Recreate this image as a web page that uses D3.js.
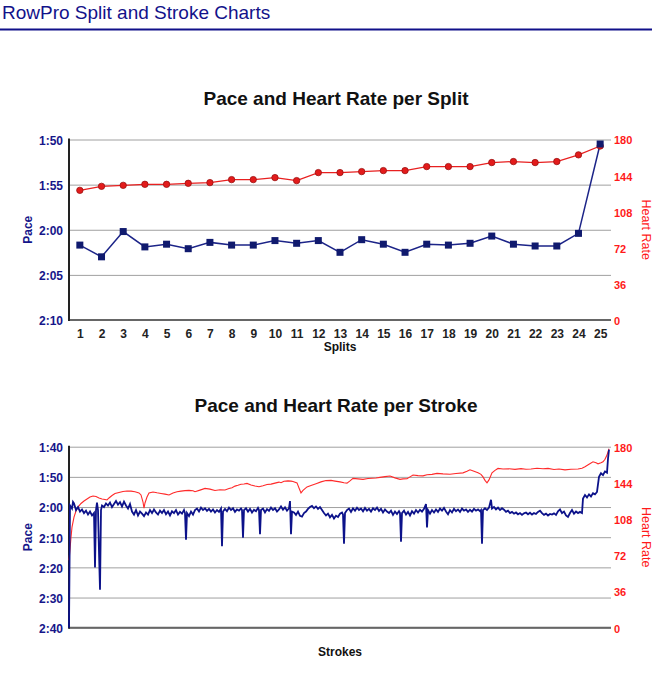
<!DOCTYPE html>
<html><head><meta charset="utf-8">
<script src="https://cdn.jsdelivr.net/npm/d3@7"></script>
<style>
body{margin:0;background:#fff}
svg{display:block}
text{font-family:"Liberation Sans",Arial,Helvetica,sans-serif}
</style>
</head><body>
<svg id="c" width="671" height="679"></svg>
<script>
// ---------- DATA ----------
const pageTitle = "RowPro Split and Stroke Charts";
const splitTitle = "Pace and Heart Rate per Split";
const strokeTitle = "Pace and Heart Rate per Stroke";

const splits = [1,2,3,4,5,6,7,8,9,10,11,12,13,14,15,16,17,18,19,20,21,22,23,24,25];
// pace in seconds per 500m
const splitPace = [121.7,123.0,120.2,121.9,121.6,122.1,121.4,121.7,121.7,121.2,121.5,121.2,122.5,121.1,121.6,122.5,121.6,121.7,121.5,120.7,121.6,121.8,121.8,120.4,110.5];
const splitHR = [129.3,133.3,134.3,135.3,135.3,136.3,137,140,140,142,139,147,147,148,149,149,153,153,153,157,158,157,158,164.7,173.5];

const splitPaceTicks = ["1:50","1:55","2:00","2:05","2:10"];
const strokePaceTicks = ["1:40","1:50","2:00","2:10","2:20","2:30","2:40"];
const hrTicks = [0,36,72,108,144,180];

const strokeCount = 542;
// [stroke, pace seconds]
const strokePace = [[0,160],[1,119.5],[3,120.5],[4,118.3],[5,118.8],[7,121],[9,120],[11,121.5],[13,120.8],[15,122],[17,121.2],[19,122.5],[21,121.5],[23,122.8],[25,122],[26,140],[27,121],[28,118.5],[29,121],[30,135],[31,147.4],[32,121],[33,119.5],[35,120],[37,118.8],[39,119.5],[41,118.5],[43,120],[45,119],[47,118],[49,119.2],[51,118.4],[53,119.8],[55,118.2],[57,119.5],[59,120.5],[61,119],[63,121.5],[65,122.5],[67,121],[69,122.8],[71,121.5],[73,122.2],[75,123],[77,121.8],[79,122.5],[81,121],[83,122],[85,120.8],[87,121.8],[89,122.5],[91,121.2],[93,122],[95,121],[97,122.4],[99,121.5],[101,122.8],[103,121.4],[105,122],[107,121],[109,122.5],[111,121.6],[113,122.2],[115,121],[116,122],[117,130.8],[118,122],[120,123],[122,121.5],[124,122.5],[126,121],[128,120.5],[130,121.5],[132,120.2],[134,121],[136,120.4],[138,121.3],[140,120.6],[142,121.5],[144,120.8],[146,121.8],[148,121],[150,121.6],[152,120.5],[153,133],[154,121.5],[156,120.6],[158,121.4],[160,120.2],[162,121],[164,120.4],[166,121.6],[168,120.8],[170,121.2],[172,120.5],[173,121],[174,130.2],[175,121],[177,120.4],[179,121.5],[181,120.6],[183,121.8],[185,120.9],[187,121.4],[189,120.3],[190,121],[191,129],[192,121],[194,120.5],[196,121.8],[198,120.7],[200,121.3],[202,120.2],[204,121],[206,120.4],[208,121.5],[210,120.8],[212,119.8],[214,120.9],[216,120.1],[218,121.2],[220,120.4],[221,118],[222,129],[223,121.5],[225,121.8],[227,122.6],[229,121.5],[231,122.9],[233,123.2],[235,122],[237,121.5],[239,120.6],[241,120],[243,119.6],[245,120.4],[247,119.8],[249,120.6],[251,120],[253,121],[255,122],[257,122.8],[259,122.2],[261,123.4],[263,122.6],[265,123.8],[267,122.9],[269,123.3],[271,122.2],[273,121.8],[274,122.5],[275,132.2],[276,122],[278,121],[280,120.5],[282,121.6],[284,120.4],[286,121.2],[288,120.2],[290,121],[292,120.5],[294,121.4],[296,120.3],[298,121.2],[300,120.6],[302,121.5],[304,120.4],[306,121],[308,120.2],[310,121.3],[312,120.6],[314,121.8],[316,120.8],[318,121.5],[320,122],[322,121.2],[324,122.6],[326,121.5],[328,122.3],[330,121.4],[331,122],[332,131.5],[333,122],[335,121.2],[337,122.5],[339,121.6],[341,122.8],[343,121.4],[345,122.2],[347,121],[349,121.8],[351,120.9],[353,121.5],[355,120.6],[357,119],[358,126.8],[359,121],[361,122.2],[363,121],[365,121.8],[367,120.8],[369,121.6],[371,120.5],[373,121.2],[375,120.3],[377,121.5],[379,122.4],[381,121],[383,121.8],[385,120.6],[387,121.4],[389,120.8],[391,121.6],[393,120.5],[395,121.2],[397,120.8],[399,121.6],[401,120.9],[403,121.5],[405,120.6],[407,121.2],[409,120.8],[411,121.4],[412,121],[413,132.2],[414,121],[416,120.4],[418,121],[420,120.2],[422,117.6],[423,120.5],[425,120],[427,120.8],[429,120.2],[431,121],[433,120.4],[435,120.9],[437,121.6],[439,121.2],[441,122],[443,121.6],[445,122.2],[447,121.8],[449,122.4],[451,122],[453,122.6],[455,122.1],[457,121.8],[459,122.4],[461,121.9],[463,122.5],[465,122],[467,122.3],[469,121.6],[471,121.2],[473,122],[475,122.6],[477,122.2],[479,122.8],[481,122.3],[483,122.5],[485,122.1],[487,122.6],[489,121.4],[491,120.8],[493,122],[495,121.5],[497,122.8],[499,123.3],[501,122],[503,121],[505,122.2],[507,121.5],[509,122],[511,121.6],[513,122],[514,117.2],[516,116],[518,116.8],[520,115.8],[522,116.5],[524,115.4],[526,115.8],[528,115],[530,110],[532,108.8],[534,109.4],[536,108.2],[538,108.6],[539,104],[540,101]];
// [stroke, heart rate bpm]
const strokeHR = [[0,67],[1,78],[2,90],[3,100],[5,110],[7,116],[9,120],[12,123.5],[15,126],[18,128],[21,130],[24,131],[27,130.5],[30,129],[33,128],[36,127.5],[38,127],[40,129],[43,131.5],[46,133.5],[50,134.5],[54,135.5],[58,136],[62,135.8],[66,135.2],[70,134],[72,132],[74,125],[75,119],[76,124],[78,130],[80,134],[84,135],[88,134.2],[92,133.5],[96,132.8],[100,132],[104,134],[108,135.2],[112,135.8],[116,136.3],[120,136.6],[124,136.2],[126,135.2],[131,136.8],[136,138.5],[141,137.8],[146,136.5],[151,137.2],[156,137],[160,138.4],[163,139.2],[166,140.8],[169,141.6],[172,142.6],[175,142.9],[178,143.5],[182,142],[186,141],[190,140.2],[194,141.2],[198,142.4],[202,142.8],[206,143.8],[210,144.8],[212,144.2],[215,145.6],[219,146],[222,145.8],[224,145.4],[228,144],[230,139],[232,134],[234,136.5],[238,140],[242,141.5],[247,143.2],[252,145],[257,146.3],[262,146.5],[266,145.8],[271,145],[275,144.2],[278,143.8],[281,146],[284,148.5],[289,148],[294,147.5],[299,148.3],[303,148.6],[307,148.9],[311,149.5],[316,150.2],[321,150.8],[326,149],[331,147.5],[334,148],[338,148.2],[341,150],[344,151.8],[349,151.2],[354,151],[358,152.1],[363,152.5],[368,153.5],[374,153],[381,152.6],[387,153.4],[394,154],[398,155.5],[401,157],[405,155.5],[409,154],[412,152.5],[414,150],[416,146.5],[418,144],[420,147],[423,154],[426,156.5],[429,158.4],[434,157.8],[440,158.1],[446,157.5],[452,158.2],[457,157.6],[462,157.8],[468,158.6],[474,158],[479,158.4],[485,157.3],[490,157.8],[496,157],[502,157.6],[509,157.8],[513,158.6],[516,160],[520,162.5],[524,165],[527,164],[529,163],[532,164],[534,165],[536,167.5],[538,171.7],[540,178]];

// ---------- DRAW ----------
const svg = d3.select("#c");
const navy = "#16168a";
const red = "#ff1a1a";
const L = 69, R = 611;
const parsePace = s => { const [m, sec] = s.split(":").map(Number); return m * 60 + sec; };

svg.append("text").attr("x", 2).attr("y", 18.5).attr("font-size", 19)
  .attr("fill", "#12128a").text(pageTitle);
svg.append("line").attr("x1", 0).attr("x2", 652).attr("y1", 29.5).attr("y2", 29.5)
  .attr("stroke", "#10108a").attr("stroke-width", 2);

function frame(top, bottom, paceLabels, title, titleY, xLabel, xLabelY) {
  const paceVals = paceLabels.map(parsePace);
  const yP = d3.scaleLinear().domain([paceVals[0], paceVals[paceVals.length - 1]]).range([top, bottom]);
  const yH = d3.scaleLinear().domain([0, 180]).range([bottom, top]);
  const g = svg.append("g");
  // grid
  g.append("g").attr("transform", `translate(${L},0)`)
    .call(d3.axisLeft(yP).tickValues(paceVals).tickSize(-(R - L)).tickFormat(""))
    .call(s => s.select(".domain").remove())
    .selectAll("line").attr("stroke", "#a0a0a0").attr("stroke-width", 1);
  // left labels
  g.append("g").attr("transform", `translate(${L},0)`)
    .call(d3.axisLeft(yP).tickValues(paceVals).tickSize(0).tickPadding(6)
      .tickFormat((d, i) => paceLabels[i]))
    .call(s => s.select(".domain").remove())
    .selectAll("text").attr("font-size", 12).attr("font-weight", "bold")
    .attr("fill", navy).attr("dy", "0.4em").style("font-family", "'Liberation Sans',Arial,sans-serif");
  // right labels
  g.append("g").attr("transform", `translate(${R},0)`)
    .call(d3.axisRight(yH).tickValues(hrTicks).tickSize(0).tickPadding(3))
    .call(s => s.select(".domain").remove())
    .selectAll("text").attr("font-size", 11).attr("font-weight", "bold")
    .attr("fill", red).attr("dy", "0.4em").style("font-family", "'Liberation Sans',Arial,sans-serif");
  // axis lines
  g.append("line").attr("x1", L).attr("x2", R).attr("y1", bottom).attr("y2", bottom)
    .attr("stroke", "#666").attr("stroke-width", 2);
  g.append("line").attr("x1", L).attr("x2", L).attr("y1", top - 1).attr("y2", bottom + 1)
    .attr("stroke", "#222").attr("stroke-width", 2);
  // titles
  svg.append("text").attr("x", 336).attr("y", titleY).attr("text-anchor", "middle")
    .attr("font-size", 19).attr("font-weight", "bold").attr("fill", "#111").text(title);
  svg.append("text").attr("x", 340).attr("y", xLabelY).attr("text-anchor", "middle")
    .attr("font-size", 12).attr("font-weight", "bold").attr("fill", "#111").text(xLabel);
  svg.append("text").attr("transform", `translate(32,${(top + bottom) / 2}) rotate(-90)`)
    .attr("text-anchor", "middle").attr("font-size", 12).attr("font-weight", "bold")
    .attr("fill", navy).text("Pace");
  svg.append("text").attr("transform", `translate(642,${(top + bottom) / 2}) rotate(90)`)
    .attr("text-anchor", "middle").attr("font-size", 12.5)
    .attr("fill", red).text("Heart Rate");
  return { yP, yH, g };
}

// ---- split chart ----
{
  const top = 139.5, bottom = 320;
  const { yP, yH, g } = frame(top, bottom, splitPaceTicks, splitTitle, 104.5, "Splits", 350.5);
  const x = d3.scalePoint().domain(splits).range([L, R]).padding(0.5);
  g.append("g").attr("transform", `translate(0,${bottom})`)
    .call(d3.axisBottom(x).tickSize(0).tickPadding(9))
    .call(s => s.select(".domain").remove())
    .selectAll("text").attr("font-size", 12).attr("font-weight", "bold").attr("fill", "#222")
    .style("font-family", "'Liberation Sans',Arial,sans-serif");
  const hrLine = d3.line().x((d, i) => x(splits[i])).y(d => yH(d));
  const pLine = d3.line().x((d, i) => x(splits[i])).y(d => yP(d));
  g.append("path").datum(splitHR).attr("d", hrLine).attr("fill", "none").attr("stroke", "#e82020").attr("stroke-width", 1.3);
  g.append("path").datum(splitPace).attr("d", pLine).attr("fill", "none").attr("stroke", "#1c2488").attr("stroke-width", 1.5);
  g.selectAll(".hrp").data(splitHR).enter().append("circle")
    .attr("cx", (d, i) => x(splits[i])).attr("cy", d => yH(d)).attr("r", 3.2)
    .attr("fill", "#e31b1b").attr("stroke", "#9a1010").attr("stroke-width", 0.8);
  g.selectAll(".pp").data(splitPace).enter().append("rect")
    .attr("x", (d, i) => x(splits[i]) - 3.5).attr("y", d => yP(d) - 3.5)
    .attr("width", 7).attr("height", 7).attr("fill", "#101a6e");
}

// ---- stroke chart ----
{
  const top = 446.7, bottom = 627.7;
  const { yP, yH, g } = frame(top, bottom, strokePaceTicks, strokeTitle, 411.7, "Strokes", 656);
  const x = d3.scaleLinear().domain([0, strokeCount]).range([L, R]);
  g.append("path").datum(strokeHR)
    .attr("d", d3.line().x(d => x(d[0])).y(d => yH(d[1])))
    .attr("fill", "none").attr("stroke", "#ff2a2a").attr("stroke-width", 1.1);
  g.append("path").datum(strokePace)
    .attr("d", d3.line().x(d => x(d[0])).y(d => yP(d[1])))
    .attr("fill", "none").attr("stroke", "#0c128a").attr("stroke-width", 1.8);
}
</script>
</body></html>
